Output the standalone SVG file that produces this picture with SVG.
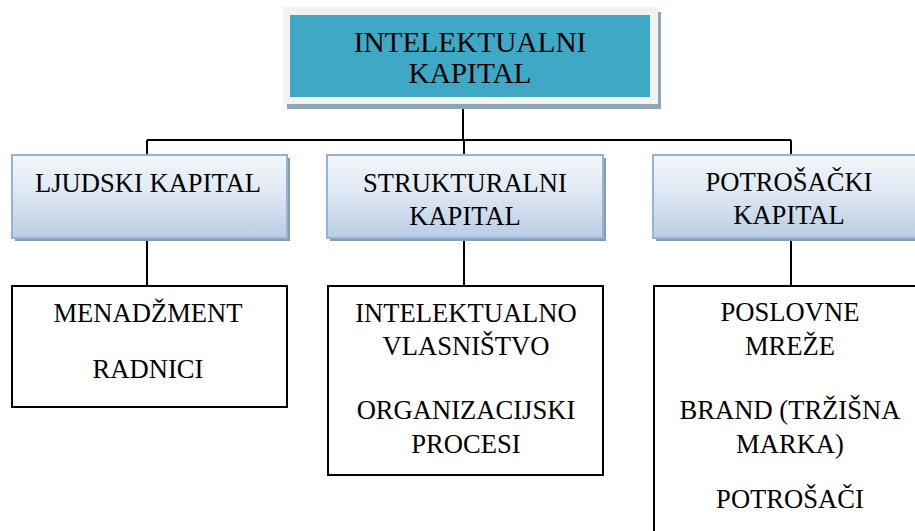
<svg xmlns="http://www.w3.org/2000/svg" width="915" height="531" viewBox="0 0 915 531">
<defs>
<linearGradient id="g2" x1="0" y1="0" x2="0" y2="1">
<stop offset="0" stop-color="#f4f7fb"/>
<stop offset="0.45" stop-color="#dfe8f3"/>
<stop offset="1" stop-color="#b9cde5"/>
</linearGradient>
</defs>
<style>
text{font-family:'Liberation Serif','Times New Roman',serif;fill:#000;text-anchor:middle}
.t1{font-size:29.3px}
.t2{font-size:26.6px}
.l2{fill:url(#g2);stroke:#95b3d7;stroke-width:2}
.sh{fill:#8c9ba8}
.l3{fill:#fff;stroke:#000;stroke-width:2}
.c{stroke:#000;stroke-width:2;fill:none}
</style>
<rect width="915" height="531" fill="#fff"/>
<g id="connectors">
<path class="c" d="M463 97V140M147 140H791M147 140V155M464 140V155M791 140V155M147 238V286M464 238V286M791 238V286"/>
</g>
<g id="intelektualni-kapital">
<rect x="287" y="12" width="374" height="97" fill="#8fa6b1"/>
<rect x="283" y="7" width="375" height="97" fill="#f2f2f2"/>
<rect x="290" y="15" width="360" height="82" fill="#3fa9c5"/>
<text class="t1" x="470" y="52">INTELEKTUALNI</text>
<text class="t1" x="470" y="83">KAPITAL</text>
</g>
<g id="ljudski-kapital">
<rect class="sh" x="15" y="158" width="275" height="83"/>
<rect class="l2" x="12" y="155" width="275" height="83"/>
<text class="t2" x="148" y="192">LJUDSKI KAPITAL</text>
</g>
<g id="strukturalni-kapital">
<rect class="sh" x="330" y="158" width="276" height="83"/>
<rect class="l2" x="327" y="155" width="276" height="83"/>
<text class="t2" x="465" y="192">STRUKTURALNI</text>
<text class="t2" x="465" y="225">KAPITAL</text>
</g>
<g id="potrosacki-kapital">
<rect class="sh" x="656" y="158" width="276" height="83"/>
<rect class="l2" x="653" y="155" width="276" height="83"/>
<text class="t2" x="789" y="191">POTROŠAČKI</text>
<text class="t2" x="789" y="224">KAPITAL</text>
</g>
<g id="ljudski-items">
<rect class="l3" x="12" y="286" width="275" height="121"/>
<text class="t2" x="148" y="322">MENADŽMENT</text>
<text class="t2" x="148" y="378">RADNICI</text>
</g>
<g id="strukturalni-items">
<rect class="l3" x="328" y="286" width="275" height="189"/>
<text class="t2" x="466" y="322">INTELEKTUALNO</text>
<text class="t2" x="466" y="355">VLASNIŠTVO</text>
<text class="t2" x="466" y="419">ORGANIZACIJSKI</text>
<text class="t2" x="466" y="453">PROCESI</text>
</g>
<g id="potrosacki-items">
<rect class="l3" x="654" y="286" width="280" height="260"/>
<text class="t2" x="790" y="321">POSLOVNE</text>
<text class="t2" x="790" y="355">MREŽE</text>
<text class="t2" x="790" y="419">BRAND (TRŽIŠNA</text>
<text class="t2" x="790" y="453">MARKA)</text>
<text class="t2" x="790" y="508">POTROŠAČI</text>
</g>
</svg>
